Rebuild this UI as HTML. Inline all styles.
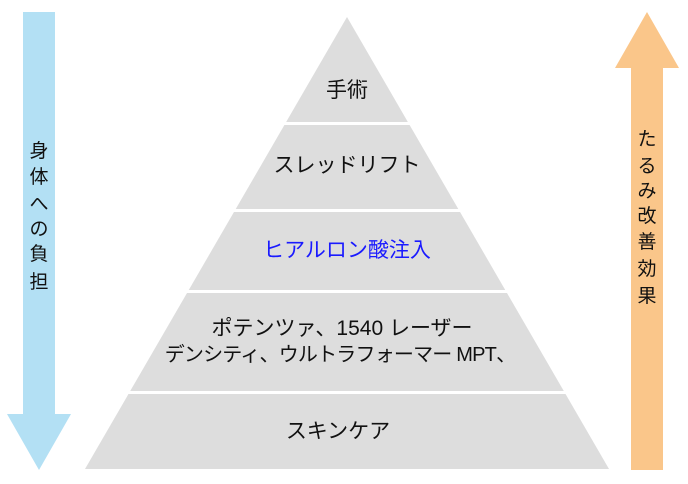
<!DOCTYPE html>
<html><head><meta charset="utf-8"><style>
html,body{margin:0;padding:0;background:#fff;width:688px;height:484px;overflow:hidden;position:relative;font-family:"Liberation Sans","Noto Sans CJK JP",sans-serif;}
.t{position:absolute;font-size:21px;line-height:24px;color:#111;white-space:nowrap;text-align:center;}
.c{position:absolute;width:32px;text-align:center;font-size:19px;line-height:20px;color:#111;}
</style></head><body>
<svg width="688" height="484" style="position:absolute;left:0;top:0">
<polygon points="23,12 55,12 55,414 71,414 39,470 7,414 23,414" fill="#b3e0f4"/>
<polygon points="647,12 679,68 663,68 663,470 631,470 631,68 615,68" fill="#fac68a"/>
<polygon points="347,17 609,469 85,469" fill="#dddddd"/>
<rect x="80" y="122" width="535" height="3" fill="#fff"/>
<rect x="80" y="209" width="535" height="3" fill="#fff"/>
<rect x="80" y="290" width="535" height="3" fill="#fff"/>
<rect x="80" y="391" width="535" height="3" fill="#fff"/>
</svg>
<div class="t" style="left:247px;width:200px;top:79px">手術</div>
<div class="t" style="left:197px;width:300px;top:154px">スレッドリフト</div>
<div class="t" style="left:197px;width:300px;top:239px;color:#1a1aff">ヒアルロン酸注入</div>
<div class="t" style="left:142px;width:400px;top:317px">ポテンツァ、1540 レーザー</div>
<div class="t" style="left:140px;width:400px;top:343px;font-size:20px;letter-spacing:-0.8px">デンシティ、ウルトラフォーマー MPT、</div>
<div class="t" style="left:188px;width:300px;top:420px">スキンケア</div>
<div class="c" style="left:23px;top:142px">身</div>
<div class="c" style="left:23px;top:168px">体</div>
<div class="c" style="left:23px;top:195px">へ</div>
<div class="c" style="left:23px;top:220px">の</div>
<div class="c" style="left:23px;top:245px">負</div>
<div class="c" style="left:23px;top:273px">担</div>
<div class="c" style="left:631px;top:130px">た</div>
<div class="c" style="left:631px;top:157px">る</div>
<div class="c" style="left:631px;top:182px">み</div>
<div class="c" style="left:631px;top:207px">改</div>
<div class="c" style="left:631px;top:233px">善</div>
<div class="c" style="left:631px;top:260px">効</div>
<div class="c" style="left:631px;top:287px">果</div>
</body></html>
